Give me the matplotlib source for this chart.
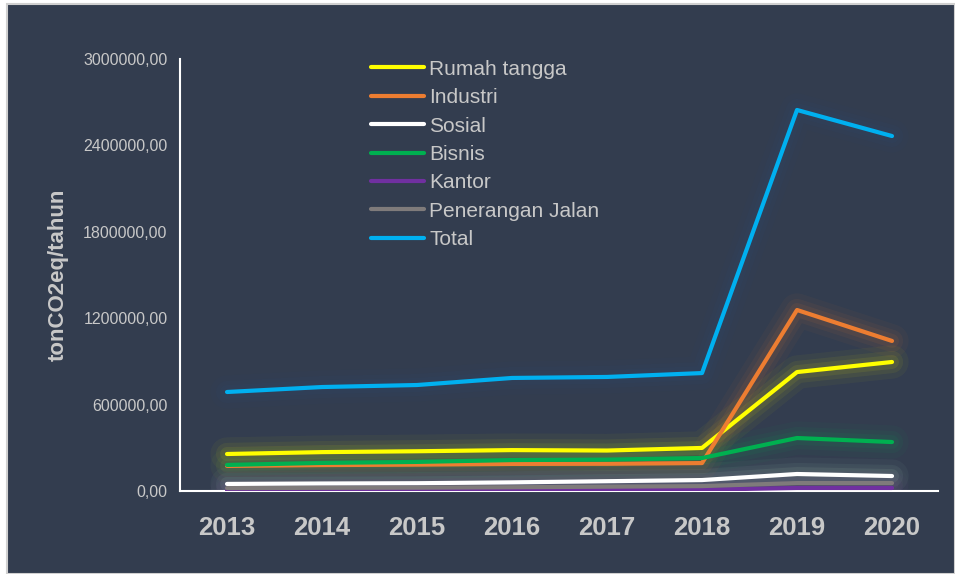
import numpy as np
import matplotlib.pyplot as plt
from matplotlib.patches import Rectangle

# data
tahun = [2013, 2014, 2015, 2016, 2017, 2018, 2019, 2020]
rumah_tangga = [257000, 270000, 276000, 284000, 281000, 299000, 826000, 896000]
industri = [174000, 180000, 183000, 188000, 189000, 194000, 1257000, 1042000]
sosial = [49000, 52000, 54000, 60000, 68000, 76000, 118000, 104000]
bisnis = [181000, 195000, 202000, 215000, 218000, 229000, 368000, 340000]
kantor = [5000, 6000, 6000, 7000, 8000, 9000, 21000, 21000]
penerangan = [20000, 22000, 23000, 26000, 30000, 34000, 55000, 55000]
total = [687500, 722000, 736000, 785000, 792000, 819000, 2646000, 2465000]

series = [
    ("Rumah tangga", rumah_tangga, "#ffff00"),
    ("Industri", industri, "#ed7d31"),
    ("Sosial", sosial, "#ffffff"),
    ("Bisnis", bisnis, "#00b050"),
    ("Kantor", kantor, "#7030a0"),
    ("Penerangan Jalan", penerangan, "#7f7b7b"),
    ("Total", total, "#00b0f0"),
]
glow = {"Total": "#2c4f86", "Sosial": "#bff0d8"}

bg = "#333d4f"
txt = "#c8c8c8"

fig = plt.figure(figsize=(9.55, 5.74), dpi=100, facecolor="white")
fig.patches.append(Rectangle((7/955, 0), 1 - 7/955, 1 - 4/574, transform=fig.transFigure,
                             facecolor=bg, edgecolor="#d0d0d0", linewidth=1.5, zorder=-5))

ax = fig.add_axes([180/955, 1 - 491/574, (938 - 180)/955, (491 - 59)/574])
ax.set_zorder(2)
ax.set_facecolor("none")

# glow layers
for nama, vals, c in series:
    gc = glow.get(nama, c)
    for lw, a in [(24, 0.04), (16, 0.06), (10, 0.08)]:
        ax.plot(tahun, vals, color=gc, linewidth=lw, alpha=a, solid_capstyle="round",
                solid_joinstyle="round", zorder=1)

for nama, vals, c in series:
    ax.plot(tahun, vals, color=c, linewidth=3, label=nama, solid_capstyle="round", zorder=3)

ax.set_xlim(2012.505, 2020.484)
ax.set_ylim(0, 3000000)
ax.set_yticks([0, 600000, 1200000, 1800000, 2400000, 3000000])
ax.set_yticklabels([f"{v},00" for v in [0, 600000, 1200000, 1800000, 2400000, 3000000]],
                   fontsize=11.5, color=txt, fontfamily="Liberation Sans")
ax.set_xticks(tahun)
ax.set_xticklabels([str(t) for t in tahun], fontsize=18.5, fontweight="bold", color=txt,
                   fontfamily="Liberation Sans")
ax.tick_params(axis="both", length=0)
ax.tick_params(axis="y", pad=9)
ax.tick_params(axis="x", pad=18)

for s in ["top", "right"]:
    ax.spines[s].set_visible(False)
for s in ["left", "bottom"]:
    ax.spines[s].set_color("white")
    ax.spines[s].set_linewidth(1.5)

fig.text(58/955, 1 - 275/574, "tonCO2eq/tahun", rotation=90, ha="center", va="center",
         fontsize=16, fontweight="bold", color=txt, fontfamily="Liberation Sans")

leg = ax.legend(loc="upper left", bbox_to_anchor=(352/955, 1 - 41/574), bbox_transform=fig.transFigure,
                frameon=False, handlelength=2.55, handletextpad=0.25,
                labelspacing=0.45, prop={"family": "Liberation Sans", "size": 15})
for t in leg.get_texts():
    t.set_color(txt)

fig.savefig("out.png", dpi=100, facecolor=fig.get_facecolor())
